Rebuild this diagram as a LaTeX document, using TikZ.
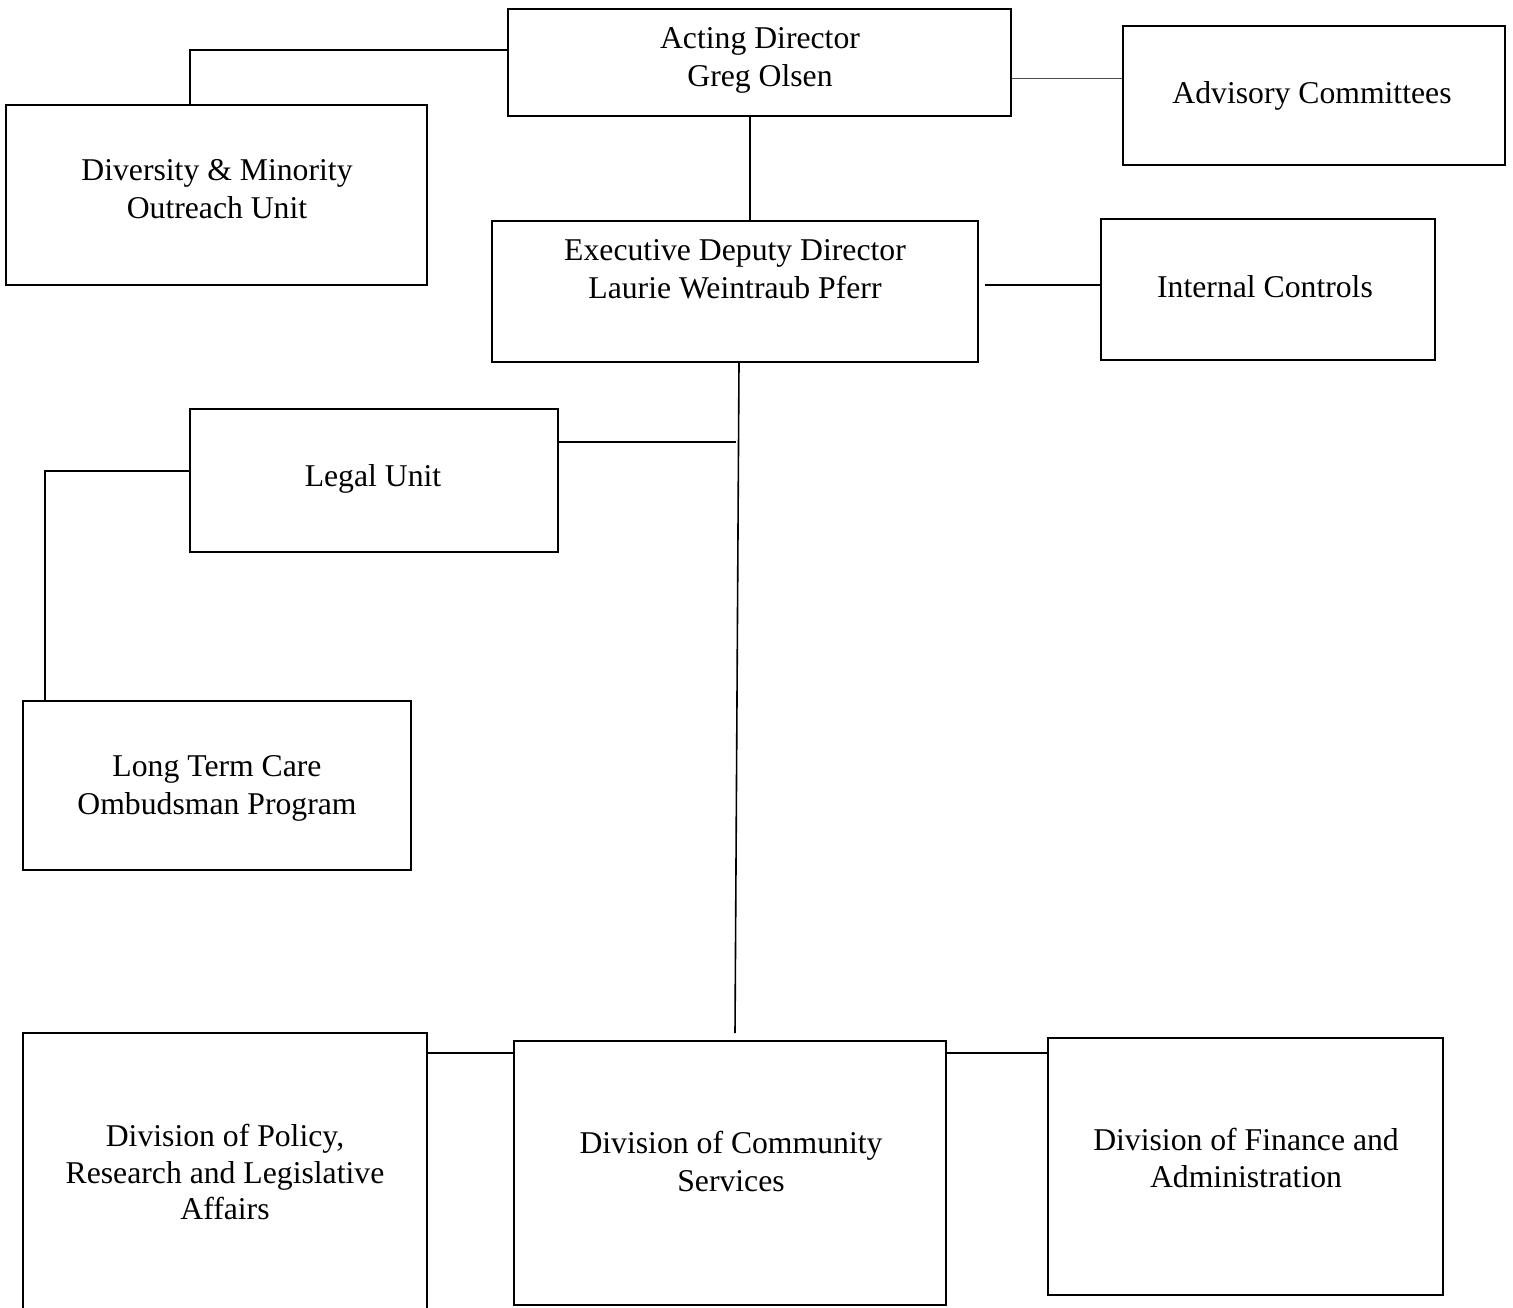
\documentclass[tikz,border=0pt]{standalone}
\usepackage{fontspec}
\setmainfont{Liberation Serif}
\begin{document}
\begin{tikzpicture}[x=1pt,y=-1pt,
  box/.style={draw,line width=1.6pt,inner sep=0pt,rectangle},
  lbl/.style={align=center,inner sep=0pt,font=\fontsize{31.7}{38}\selectfont},
  conn/.style={line width=1.6pt}]
\clip (0,0) rectangle (1513,1307);
% boxes
\node[box,minimum width=503pt,minimum height=107pt] (dir) at (759.5,62.5) {};
\node[box,minimum width=382pt,minimum height=139pt] (adv) at (1314,95.5) {};
\node[box,minimum width=421pt,minimum height=180pt] (dmo) at (216.5,195) {};
\node[box,minimum width=486pt,minimum height=141pt] (edd) at (735,291.5) {};
\node[box,minimum width=334pt,minimum height=141pt] (ic) at (1268,289.5) {};
\node[box,minimum width=368pt,minimum height=143pt] (legal) at (374,480.5) {};
\node[box,minimum width=388pt,minimum height=169pt] (ltc) at (217,785.5) {};
\node[box,minimum width=404pt,minimum height=300pt] (pol) at (225,1183) {};
\node[box,minimum width=432pt,minimum height=264pt] (dcs) at (730,1173) {};
\node[box,minimum width=395pt,minimum height=257pt] (dfa) at (1245.5,1166.5) {};
% labels
\node[lbl] (tdir) at (760,60) {Acting Director\\Greg Olsen};
\node[lbl] (tadv) at (1312,96) {Advisory Committees};
\node[lbl] (tdmo) at (217,189) {Diversity \& Minority\\Outreach Unit};
\node[lbl] (tedd) at (735,269) {Executive Deputy Director\\Laurie Weintraub Pferr};
\node[lbl] (tic) at (1265,287) {Internal Controls};
\node[lbl] (tlegal) at (373,479) {Legal Unit};
\node[lbl] (tltc) at (217,788) {Long Term Care\\Ombudsman Program};
\node[lbl,font=\fontsize{31.7}{36.5}\selectfont] (tpol) at (225,1172) {Division of Policy,\\Research and Legislative\\Affairs};
\node[lbl] (tdcs) at (731,1161) {Division of Community\\Services};
\node[lbl,font=\fontsize{31.7}{37}\selectfont] (tdfa) at (1246,1158) {Division of Finance and\\Administration};
% connectors
\coordinate (k1) at (190,50);
\draw[conn] (k1 -| dir.west) -- (k1) -- (k1 |- dmo.north);
\coordinate (k2) at (1011,78);
\draw[line width=1pt,black!70] (k2 -| dir.east) -- (k2 -| adv.west);
\coordinate (k3) at (750,0);
\draw[conn] (k3 |- dir.south) -- (k3 |- edd.north);
\coordinate (k4) at (985,285);
\draw[conn] (k4) -- (k4 -| ic.west);
\coordinate (k5) at (739,0);
\coordinate (k6) at (735,1033);
\draw[conn] (k5 |- edd.south) -- (k6);
\coordinate (k7) at (736,442);
\draw[conn] (k7 -| legal.east) -- (k7);
\coordinate (k8) at (45,471);
\draw[conn] (k8 -| legal.west) -- (k8) -- (k8 |- ltc.north);
\coordinate (k9) at (0,1053);
\draw[conn] (k9 -| pol.east) -- (k9 -| dcs.west);
\draw[conn] (k9 -| dcs.east) -- (k9 -| dfa.west);
\end{tikzpicture}
\end{document}
